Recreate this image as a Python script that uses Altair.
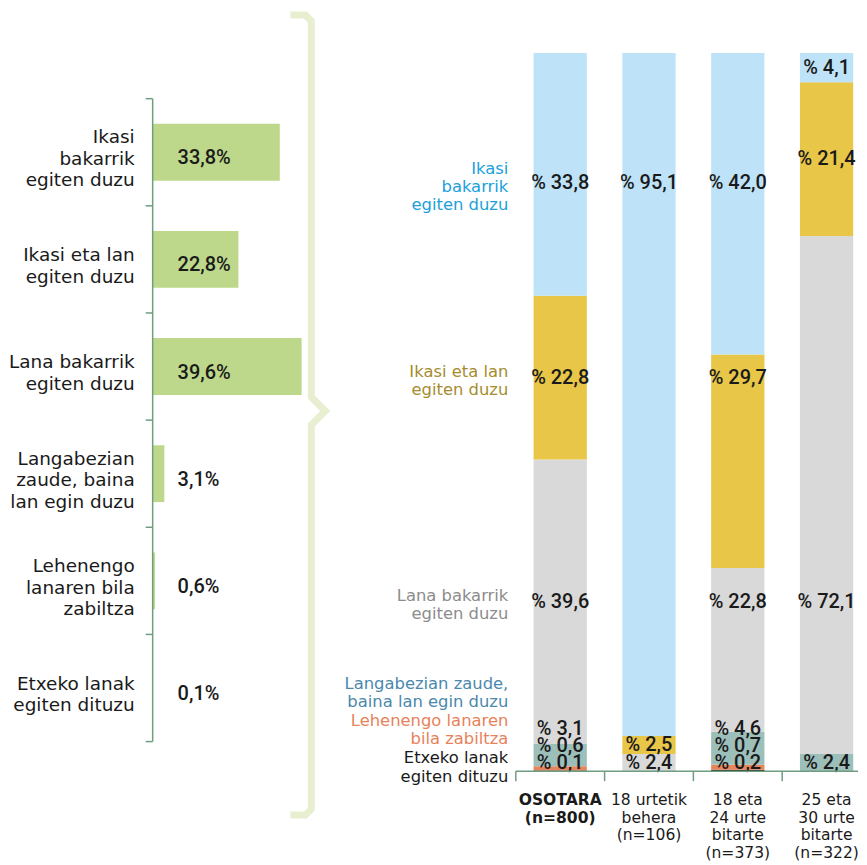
import altair as alt
import pandas as pd

# ---------------- data ----------------
categories = [
    "Ikasi bakarrik egiten duzu",
    "Ikasi eta lan egiten duzu",
    "Lana bakarrik egiten duzu",
    "Langabezian zaude, baina lan egin duzu",
    "Lehenengo lanaren bila zabiltza",
    "Etxeko lanak egiten dituzu",
]
left_labels = [
    "Ikasi\nbakarrik\negiten duzu",
    "Ikasi eta lan\negiten duzu",
    "Lana bakarrik\negiten duzu",
    "Langabezian\nzaude, baina\nlan egin duzu",
    "Lehenengo\nlanaren bila\nzabiltza",
    "Etxeko lanak\negiten dituzu",
]
right_labels = [
    "Ikasi\nbakarrik\negiten duzu",
    "Ikasi eta lan\negiten duzu",
    "Lana bakarrik\negiten duzu",
    "Langabezian zaude,\nbaina lan egin duzu",
    "Lehenengo lanaren\nbila zabiltza",
    "Etxeko lanak\negiten dituzu",
]
total_pct = [33.8, 22.8, 39.6, 3.1, 0.6, 0.1]

groups = [
    "OSOTARA\n(n=800)",
    "18 urtetik\nbehera\n(n=106)",
    "18 eta\n24 urte\nbitarte\n(n=373)",
    "25 eta\n30 urte\nbitarte\n(n=322)",
]
osotara = [33.8, 22.8, 39.6, 3.1, 0.6, 0.1]
under_18 = [95.1, 2.5, 2.4, 0.0, 0.0, 0.0]
age_18_24 = [42.0, 29.7, 22.8, 4.6, 0.7, 0.2]
age_25_30 = [4.1, 21.4, 72.1, 2.4, 0.0, 0.0]
group_values = [osotara, under_18, age_18_24, age_25_30]

# ---------------- styles ----------------
WORD_FONT = "DejaVu Sans"
NUM_FONT = "Roboto"
INK = "#1a1a1a"
AXIS_COLOR = "#6f9d80"
GREEN = "#bdd88a"
BRACE_COLOR = "#e8efd0"
bar_colors = ["#bee3f8", "#e8c647", "#d9d9d9", "#9dbfba", "#e8845b", "#1a1a1a"]
text_colors = ["#1ba1db", "#a68c2f", "#8c8c8c", "#4a88ad", "#e8825a", "#1a1a1a"]

H = 764
# left panel geometry
PX_PER_PCT = 3.77
AXIS_X = 143
LEFT_W = 277
BAND_TOP = 86
BAND_H = 108.83
LEFT_FS = 18.5
LEFT_LH = 21.5
LABEL_SHIFT = 6.5      # px, text block slightly below bar centre
xmin = -AXIS_X / PX_PER_PCT
xmax = xmin + LEFT_W / PX_PER_PCT
ymin = -BAND_TOP / BAND_H
ymax = (H - BAND_TOP) / BAND_H
xs = alt.Scale(domain=[xmin, xmax])
ys = alt.Scale(domain=[ymin, ymax], reverse=True)

fmt_left = lambda v: f"{v:.1f}%".replace(".", ",")
fmt_right = lambda v: f"% {v:.1f}".replace(".", ",")

n_cat = len(categories)
pos = [i + 0.5 for i in range(n_cat)]
left_df = pd.DataFrame({
    "cat": categories,
    "label": left_labels,
    "value": total_pct,
    "zero": [0.0] * n_cat,
    "pos": pos,
    # the first text line sits on the anchor: shift so the block is centred on the bar
    "lab_pos": [p + (LABEL_SHIFT - lab.count("\n") * LEFT_LH / 2) / BAND_H for p, lab in zip(pos, left_labels)],
    "vlabel": [fmt_left(v) for v in total_pct],
})

left_bars = alt.Chart(left_df).mark_bar(orient="horizontal", size=57, color=GREEN).encode(
    x=alt.X("zero:Q", scale=xs, axis=None),
    x2="value:Q",
    y=alt.Y("pos:Q", scale=ys, axis=None),
)
left_cat = alt.Chart(left_df).mark_text(
    align="right", baseline="middle", lineBreak="\n", fontSize=LEFT_FS, lineHeight=LEFT_LH,
    font=WORD_FONT, color=INK, dx=-18,
).encode(
    x=alt.X("zero:Q", scale=xs, axis=None),
    y=alt.Y("lab_pos:Q", scale=ys, axis=None),
    text="label:N",
)
left_val = alt.Chart(left_df).mark_text(
    align="left", baseline="middle", fontSize=20, fontWeight=500, font=NUM_FONT, color=INK, dx=25, dy=6,
).encode(
    x=alt.X("zero:Q", scale=xs, axis=None),
    y=alt.Y("pos:Q", scale=ys, axis=None),
    text="vlabel:N",
)

bounds_df = pd.DataFrame({
    "b": list(range(n_cat + 1)),
    "zero": [0.0] * (n_cat + 1),
    "tick_end": [-7 / PX_PER_PCT] * (n_cat + 1),
})
axis_df = pd.DataFrame({"zero": [0.0], "top": [0], "bottom": [n_cat]})
left_axis = alt.Chart(axis_df).mark_rule(color=AXIS_COLOR, strokeWidth=1.5).encode(
    x=alt.X("zero:Q", scale=xs, axis=None),
    y=alt.Y("top:Q", scale=ys, axis=None),
    y2="bottom:Q",
)
left_ticks = alt.Chart(bounds_df).mark_rule(color=AXIS_COLOR, strokeWidth=1.5).encode(
    x=alt.X("zero:Q", scale=xs, axis=None),
    x2="tick_end:Q",
    y=alt.Y("b:Q", scale=ys, axis=None),
)

left = alt.layer(left_bars, left_axis, left_ticks, left_cat, left_val).properties(width=LEFT_W, height=H)

# ---------------- brace (decoration) ----------------
BRACE_W = 230
brace_df = pd.DataFrame({
    "i": list(range(9)),
    "bx": [4, 19, 25, 25, 39, 25, 25, 19, 4],
    "by": [6, 6, 12, 389, 403, 417, 802, 808, 808],
})
brace = alt.Chart(brace_df).mark_line(color=BRACE_COLOR, strokeWidth=7).encode(
    x=alt.X("bx:Q", scale=alt.Scale(domain=[0, BRACE_W]), axis=None),
    y=alt.Y("by:Q", scale=alt.Scale(domain=[0, H], reverse=True), axis=None),
    order="i:Q",
).properties(width=BRACE_W, height=H)

# ---------------- right panel ----------------
STEP = 89
RIGHT_W = 343
PX_PER_PCT_R = 7.2
rys = alt.Scale(domain=[0, H / PX_PER_PCT_R])
rxs = alt.Scale(domain=groups, range=[0, STEP * len(groups)], paddingInner=0, paddingOuter=0)

# label rows of the three main categories follow the OSOTARA bar
centers = {}
cum = 0.0
for i in reversed(range(n_cat)):
    centers[i] = cum + osotara[i] / 2
    cum += osotara[i]
row_shift = {0: -1.2, 1: 0.0, 2: 0.0}

rows = []
for g, vals in zip(groups, group_values):
    cum = 0.0
    has_tiny = any(0 < v < 1 for v in vals)
    for i in reversed(range(n_cat)):
        v = vals[i]
        if v <= 0:
            continue
        y0, y1 = cum, cum + v
        cum = y1
        if has_tiny and i >= 3:
            lp = 1.2 + 2.35 * (5 - i)
        elif i < 3 and y0 <= centers[i] <= y1:
            lp = centers[i] + row_shift[i]
        else:
            lp = (y0 + y1) / 2
        rows.append(dict(group=g, cat=categories[i], y0=y0, y1=y1, lp=lp,
                         label=fmt_right(v), fillc=bar_colors[i]))
stack_df = pd.DataFrame(rows)

ann_rows = []
for i in range(n_cat):
    first_line = centers[i] + 0.8 if i < 3 else 1.8 + 5.2 * (5 - i)
    ann_rows.append(dict(group=groups[0], label=right_labels[i], pos=first_line, tcolor=text_colors[i]))
ann_df = pd.DataFrame(ann_rows)

group_df = pd.DataFrame({"group": groups, "bold": [g.startswith("OSOTARA") for g in groups]})

r_bars = alt.Chart(stack_df).mark_bar(width=alt.RelativeBandSize(0.6)).encode(
    x=alt.X("group:N", scale=rxs, sort=groups, axis=None),
    y=alt.Y("y0:Q", scale=rys, axis=None),
    y2="y1:Q",
    color=alt.Color("fillc:N", scale=None),
)
r_text = alt.Chart(stack_df).mark_text(
    baseline="middle", fontSize=20, fontWeight=500, font=NUM_FONT, color=INK,
).encode(
    x=alt.X("group:N", scale=rxs, sort=groups, axis=None),
    y=alt.Y("lp:Q", scale=rys, axis=None),
    text="label:N",
)
r_ann = alt.Chart(ann_df).mark_text(
    align="right", baseline="middle", lineBreak="\n", fontSize=16.4, lineHeight=18.5,
    font=WORD_FONT, dx=-52,
).encode(
    x=alt.X("group:N", scale=rxs, sort=groups, axis=None),
    y=alt.Y("pos:Q", scale=rys, axis=None),
    text="label:N",
    color=alt.Color("tcolor:N", scale=None),
)
# x axis drawn with marks: baseline, ticks at band edges, multi-line labels
r_domain = alt.Chart(group_df.head(1)).mark_rule(color=AXIS_COLOR, strokeWidth=1.5).encode(
    x=alt.value(0), x2=alt.value(RIGHT_W), y=alt.value(H),
)
r_ticks = alt.Chart(group_df).mark_rule(color=AXIS_COLOR, strokeWidth=1.5).encode(
    x=alt.X("group:N", scale=rxs, sort=groups, bandPosition=0, axis=None),
    y=alt.value(H), y2=alt.value(H + 10),
)
lab_kw = dict(baseline="top", align="center", lineBreak="\n", fontSize=15.6, lineHeight=17.5,
              font=WORD_FONT, color=INK)
LAB_Y = H + 22
r_lab = alt.Chart(group_df).transform_filter("!datum.bold").mark_text(**lab_kw).encode(
    x=alt.X("group:N", scale=rxs, sort=groups, axis=None),
    y=alt.value(LAB_Y),
    text="group:N",
)
r_lab_bold = alt.Chart(group_df).transform_filter("datum.bold").mark_text(fontWeight="bold", **lab_kw).encode(
    x=alt.X("group:N", scale=rxs, sort=groups, axis=None),
    y=alt.value(LAB_Y),
    text="group:N",
)
right = alt.layer(r_bars, r_text, r_ann, r_domain, r_ticks, r_lab, r_lab_bold).properties(width=RIGHT_W, height=H)

chart = alt.hconcat(left, brace, right, spacing=0, bounds="flush").properties(
    padding={"top": -8, "left": 0, "right": 0, "bottom": 0}
).configure_view(strokeWidth=0)

chart.save("out.html", embed_options={"renderer": "svg", "actions": False})
